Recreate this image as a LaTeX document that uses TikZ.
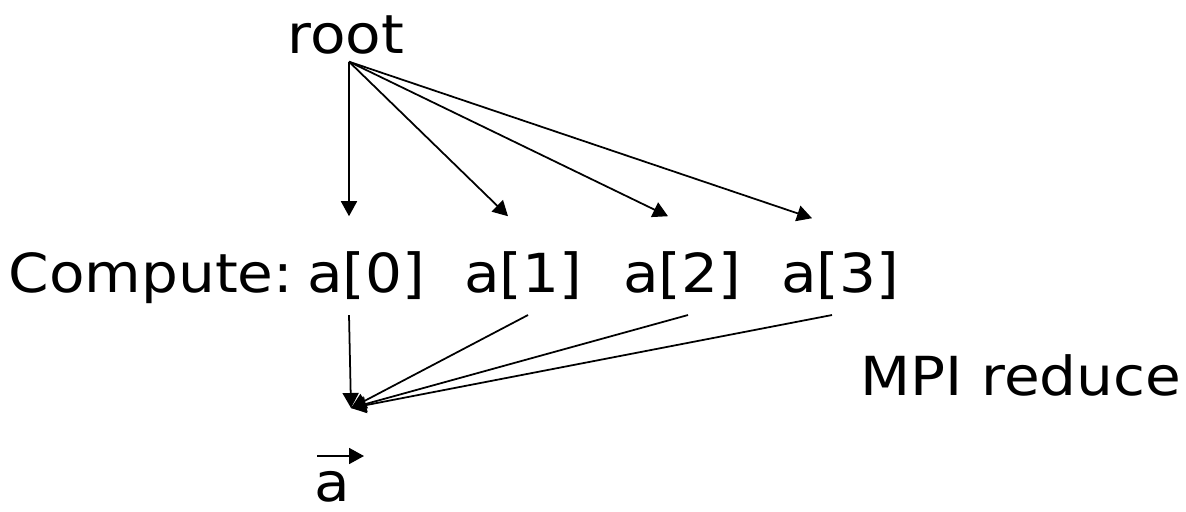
\documentclass[tikz,border=0pt]{standalone}
\usepackage{fontspec}
\setmainfont[FakeStretch=1.2]{DejaVu Sans Condensed}
\usetikzlibrary{arrows.meta}

\begin{document}
\begin{tikzpicture}[x=0.01cm,y=-0.01cm,>={Triangle[length=0.15cm,width=0.16cm]},line width=0.5pt,
  lbl/.style={anchor=base,inner sep=2pt,font=\fontsize{15.3}{18}\selectfont}]
\useasboundingbox (0,0) rectangle (1186,511);
\node[lbl] (root) at (346,53) {root};
\node[lbl] (comp) at (151,292) {Compute:};
\node[lbl] (a0) at (366,292) {a[0]};
\node[lbl] (a1) at (523,292) {a[1]};
\node[lbl] (a2) at (682,292) {a[2]};
\node[lbl] (a3) at (840,292) {a[3]};
\node[lbl] (mpi) at (1021,395) {MPI reduce};
\node[lbl,inner sep=0pt] (va) at (332,501) {a};
\coordinate (sum) at (351,408);

\draw[->] ([shift={(3,0)}]root.south) -- ([shift={(-17,-27)}]a0.north);
\draw[->] ([shift={(3,0)}]root.south) -- ([shift={(-15,-27)}]a1.north);
\draw[->] ([shift={(3,0)}]root.south) -- ([shift={(-14,-27)}]a2.north);
\draw[->] ([shift={(3,0)}]root.south) -- ([shift={(-28,-25)}]a3.north);

\draw[->] ([shift={(-17,8)}]a0.south) -- (sum);
\draw[->] ([shift={(5,8)}]a1.south) -- (sum);
\draw[->] ([shift={(6,8)}]a2.south) -- (sum);
\draw[->] ([shift={(-8,8)}]a3.south) -- (sum);

\draw[->] ([shift={(-15,-14)}]va.north) -- ([shift={(32,-14)}]va.north);
\end{tikzpicture}
\end{document}
